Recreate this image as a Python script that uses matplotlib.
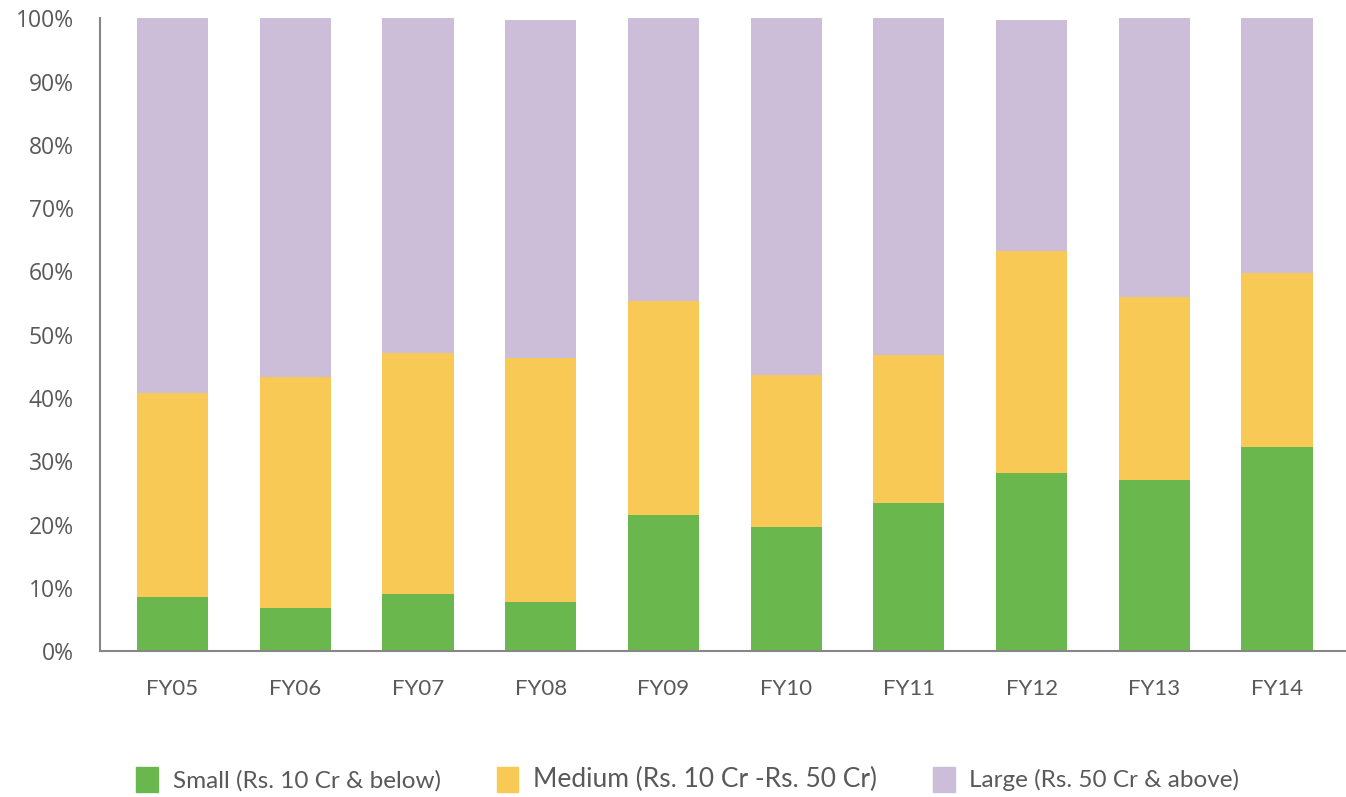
import numpy as np
import matplotlib
matplotlib.use('Agg')
import matplotlib.pyplot as plt
from matplotlib.patches import Patch

years = ['FY05', 'FY06', 'FY07', 'FY08', 'FY09', 'FY10', 'FY11', 'FY12', 'FY13', 'FY14']
small = [8.5, 6.8, 9.0, 7.7, 21.5, 19.6, 23.4, 28.1, 27.0, 32.2]
medium = [32.3, 36.5, 38.1, 38.7, 33.8, 24.0, 23.4, 35.1, 28.9, 27.5]
large = [59.2, 56.7, 52.9, 53.4, 44.7, 56.4, 53.2, 36.6, 44.1, 40.3]
labels = ['Small (Rs. 10 Cr & below)', 'Medium (Rs. 10 Cr -Rs. 50 Cr)', 'Large (Rs. 50 Cr & above)']
colors = ['#6AB84D', '#F8C955', '#CCBDD8']

fig = plt.figure(figsize=(13.46, 7.97), dpi=100)
ax = fig.add_axes([0.0743, 0.183, 0.9257, 0.794])

x = np.arange(len(years))
w = 0.58
ax.bar(x, small, w, color=colors[0])
ax.bar(x, medium, w, bottom=small, color=colors[1])
ax.bar(x, large, w, bottom=np.add(small, medium), color=colors[2])

ax.set_xlim(-0.591, 9.562)
ax.set_ylim(0, 100)
ax.set_yticks(np.arange(0, 101, 10))
ax.set_yticklabels([f'{v}%' for v in range(0, 101, 10)], family='Open Sans', fontsize=16.5, color='#595959')
ax.set_xticks(x)
ax.set_xticklabels(years, family='Lato', fontsize=16, color='#595959')
ax.tick_params(length=0)
ax.tick_params(axis='x', pad=20)
ax.tick_params(axis='y', pad=19)
for s in ['top', 'right']:
    ax.spines[s].set_visible(False)
for s in ['left', 'bottom']:
    ax.spines[s].set_color('#868686')
    ax.spines[s].set_linewidth(1.5)

handles = [Patch(color=c) for c in colors]
leg = fig.legend(handles, labels, loc='center', bbox_to_anchor=(0.511, 0.022), ncol=3,
                 frameon=False, prop={'family': 'Lato', 'size': 17.5}, handlelength=0.9,
                 handleheight=1.2, handletextpad=0.6, columnspacing=2.3)
for t in leg.get_texts():
    t.set_color('#595959')
leg.get_texts()[1].set_fontsize(19)

fig.savefig('out.png', dpi=100)
